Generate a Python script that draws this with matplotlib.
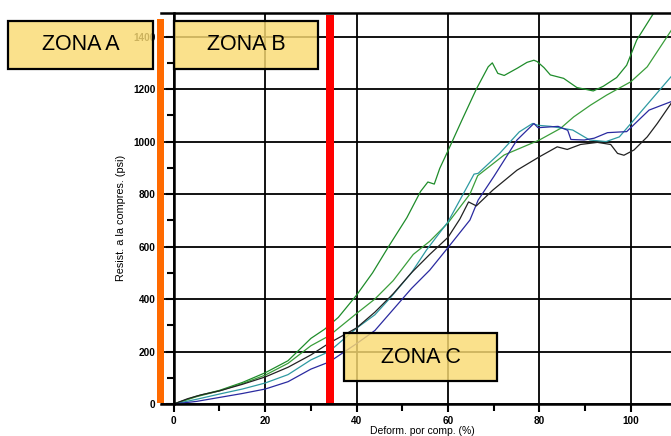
import matplotlib
matplotlib.use("Agg")
import matplotlib.pyplot as plt
from matplotlib.patches import Rectangle
from matplotlib.ticker import MultipleLocator

plt.rcParams['font.family'] = ['Liberation Sans', 'DejaVu Sans']

# ---- data (deformation %, resistance psi) ----
g1_x = [0, 5, 10, 15, 20, 25, 30, 33, 36, 40, 43.5, 47, 51, 54, 55.6, 57, 58.2, 60, 63, 66.2,
        68.8, 69.7, 70.9, 72.3, 75.2, 77.3, 78.8, 79.5, 81, 82.4, 85.3, 88.2, 91.8, 94, 96.9,
        99.1, 101.3, 105.2]
g1_y = [0, 30, 52, 82, 119, 165, 250, 285, 330, 415, 500, 600, 710, 810, 846, 838, 898, 965,
        1080, 1200, 1285, 1300, 1260, 1252, 1280, 1302, 1310, 1305, 1282, 1254, 1241, 1206,
        1193, 1211, 1244, 1291, 1387, 1495]

g2_x = [0, 5, 10, 15, 20, 25, 30, 34, 40, 44, 48, 52.4, 56, 60, 64.8, 66.5, 72.3, 80, 84.6,
        87.5, 91.2, 94.7, 100, 103.6, 108.9]
g2_y = [0, 28, 50, 78, 110, 155, 222, 260, 345, 400, 470, 570, 620, 690, 800, 870, 949,
        1006, 1050, 1094, 1139, 1177, 1228, 1285, 1425]

bk_x = [0, 3, 6, 10, 15, 20, 25, 30, 34, 40, 44, 48, 52, 56, 60, 62.6, 64.5, 66.2, 69.8,
        75.1, 80, 83.9, 86.1, 89, 92.7, 95.6, 97.1, 98.5, 100.7, 103.6, 105.8, 108.8]
bk_y = [0, 20, 35, 50, 75, 103, 140, 187, 232, 290, 350, 420, 500, 570, 635, 705, 770, 755,
        815, 891, 942, 980, 970, 989, 997, 989, 955, 948, 968, 1018, 1069, 1145]

tl_x = [0, 5, 10, 15, 20, 25, 30, 34, 40, 44, 47.6, 52, 55.3, 60, 65.7, 66.6, 71.3, 75.6,
        78.5, 79.7, 82.5, 87.3, 91, 94.6, 97.5, 101.9, 108.8]
tl_y = [0, 18, 38, 57, 80, 112, 168, 200, 289, 340, 409, 500, 587, 694, 876, 879, 955, 1037,
        1069, 1062, 1058, 1044, 1006, 1000, 1018, 1107, 1247]

bl_x = [0, 5, 10, 15, 20, 25, 30, 34, 40, 44, 48, 52, 56, 60, 64.8, 66.6, 70, 75.1, 78.8,
        79.7, 84.1, 86.2, 86.9, 89.8, 92, 94.9, 99.1, 104, 108.8]
bl_y = [0, 10, 25, 40, 57, 85, 133, 160, 230, 280, 360, 440, 510, 596, 701, 777, 866, 1006,
        1069, 1053, 1058, 1043, 1008, 1006, 1013, 1034, 1038, 1120, 1152]

x_ticks = [0, 20, 40, 60, 80, 100]
y_ticks = [0, 200, 400, 600, 800, 1000, 1200, 1400]
zones = ["ZONA A", "ZONA B", "ZONA C"]

W, H = 671, 436
fig = plt.figure(figsize=(W / 100, H / 100), dpi=100)

def fx(px):
    return px / W

def fy(py):
    return 1 - py / H

ax = fig.add_axes([fx(161), fy(404), fx(671) - fx(161), fy(13) - fy(404)])
ax.set_xlim(-2.8, 108.8)
ax.set_ylim(0, 1490)

ax.plot(g1_x, g1_y, color='#1E8C2A', lw=0.9)
ax.plot(g2_x, g2_y, color='#3A9E3A', lw=0.9)
ax.plot(tl_x, tl_y, color='#2E9AA2', lw=0.9)
ax.plot(bl_x, bl_y, color='#2A2AA0', lw=0.9)
ax.plot(bk_x, bk_y, color='#222222', lw=0.9)

ax.spines['right'].set_visible(False)
ax.spines['left'].set_position(('data', 0))
for s in ['left', 'top', 'bottom']:
    ax.spines[s].set_linewidth(1.8)
    ax.spines[s].set_color('black')

ax.set_xticks(x_ticks)
ax.set_yticks(y_ticks)
ax.xaxis.set_minor_locator(MultipleLocator(10))
ax.yaxis.set_minor_locator(MultipleLocator(100))
ax.grid(True, which='major', color='black', lw=1.3)
ax.tick_params(axis='both', which='major', length=6, width=1.5, labelsize=7.2, direction='out')
ax.tick_params(axis='both', which='minor', length=5, width=1.5, direction='out')
ax.tick_params(axis='y', which='major', pad=7)
ax.tick_params(axis='x', which='major', pad=2.5)
for lab in ax.get_xticklabels() + ax.get_yticklabels():
    lab.set_fontweight('bold')

fig.text(fx(121), fy(218), "Resist. a la compres. (psi)", rotation=90, fontsize=7.8,
         ha='center', va='center')
fig.text(fx(422), fy(430.5), "Deform. por comp. (%)", fontsize=7.5, ha='center', va='center')

# vertical bars
fig.patches.append(Rectangle((fx(157), fy(403)), fx(7), fy(19) - fy(403),
                             transform=fig.transFigure, facecolor='#FF6A00', edgecolor='none', zorder=5))
fig.patches.append(Rectangle((fx(326), fy(403)), fx(7.5), fy(15) - fy(403),
                             transform=fig.transFigure, facecolor='#FF0000', edgecolor='none', zorder=5))

boxes = [(8, 21, 153, 69), (174, 21, 318, 69), (344, 333, 497, 381)]
for (x0, y0, x1, y1), name in zip(boxes, zones):
    fig.patches.append(Rectangle((fx(x0), fy(y1)), fx(x1 - x0), fy(y0) - fy(y1),
                                 transform=fig.transFigure, facecolor=(0.98, 0.86, 0.45, 0.82),
                                 edgecolor='black', lw=1.6, zorder=6))
    fig.text(fx((x0 + x1) / 2), fy((y0 + y1) / 2), name, fontsize=15.5, ha='center', va='center',
             zorder=7)

fig.savefig("out.png", dpi=100)
